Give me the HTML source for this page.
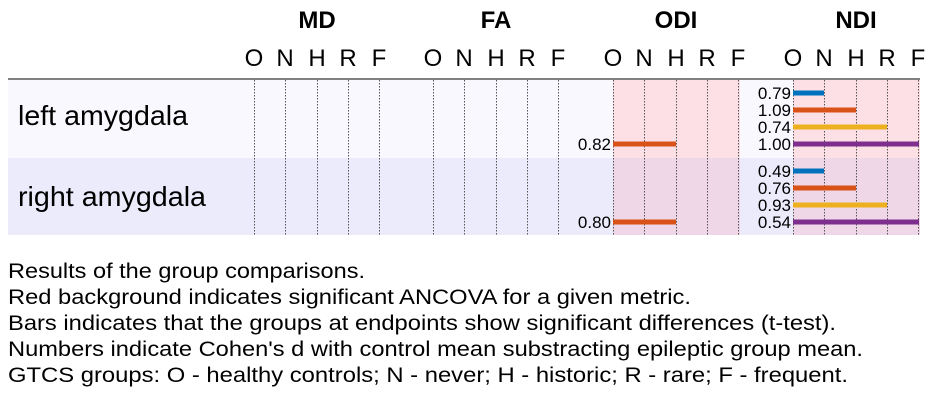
<!DOCTYPE html>
<html><head><meta charset="utf-8"><style>
html,body{margin:0;padding:0;background:#fff;}
svg{display:block;font-family:"Liberation Sans",Arial,sans-serif;}
</style></head><body>
<svg width="928" height="401" viewBox="0 0 928 401" xmlns="http://www.w3.org/2000/svg">
<rect x="8" y="80" width="912" height="78" fill="#f8f8fe"/>
<rect x="8" y="158" width="912" height="77" fill="#ebebfb"/>
<rect x="613" y="80" width="127" height="78" fill="#fde0e6"/>
<rect x="613" y="158" width="127" height="77" fill="#efd7e7"/>
<rect x="793" y="80" width="127" height="78" fill="#fde0e6"/>
<rect x="793" y="158" width="127" height="77" fill="#efd7e7"/>
<line x1="8" y1="79" x2="920" y2="79" stroke="#808080" stroke-width="2"/>
<g stroke="#555" stroke-width="1" stroke-dasharray="1.5,1.5">
<line x1="254.5" y1="80" x2="254.5" y2="235"/><line x1="285.5" y1="80" x2="285.5" y2="235"/><line x1="317.5" y1="80" x2="317.5" y2="235"/><line x1="348.5" y1="80" x2="348.5" y2="235"/><line x1="379.5" y1="80" x2="379.5" y2="235"/>
<line x1="433.5" y1="80" x2="433.5" y2="235"/><line x1="464.5" y1="80" x2="464.5" y2="235"/><line x1="496.5" y1="80" x2="496.5" y2="235"/><line x1="527.5" y1="80" x2="527.5" y2="235"/><line x1="558.5" y1="80" x2="558.5" y2="235"/>
<line x1="613.5" y1="80" x2="613.5" y2="235"/><line x1="644.5" y1="80" x2="644.5" y2="235"/><line x1="676.5" y1="80" x2="676.5" y2="235"/><line x1="707.5" y1="80" x2="707.5" y2="235"/><line x1="738.5" y1="80" x2="738.5" y2="235"/>
<line x1="793.5" y1="80" x2="793.5" y2="235"/><line x1="824.5" y1="80" x2="824.5" y2="235"/><line x1="856.5" y1="80" x2="856.5" y2="235"/><line x1="887.5" y1="80" x2="887.5" y2="235"/><line x1="918.5" y1="80" x2="918.5" y2="235"/>
</g>
<g font-size="24" font-weight="bold" text-anchor="middle" fill="#000">
<text x="317" y="28">MD</text><text x="496" y="28">FA</text><text x="676" y="28">ODI</text><text x="856" y="28">NDI</text>
</g>
<g font-size="24" text-anchor="middle" fill="#000">
<text x="254" y="66">O</text><text x="285" y="66">N</text><text x="317" y="66">H</text><text x="348" y="66">R</text><text x="379" y="66">F</text>
<text x="433" y="66">O</text><text x="464" y="66">N</text><text x="496" y="66">H</text><text x="527" y="66">R</text><text x="558" y="66">F</text>
<text x="613" y="66">O</text><text x="644" y="66">N</text><text x="676" y="66">H</text><text x="707" y="66">R</text><text x="738" y="66">F</text>
<text x="793" y="66">O</text><text x="824" y="66">N</text><text x="856" y="66">H</text><text x="887" y="66">R</text><text x="918" y="66">F</text>
</g>
<g font-size="28" fill="#000">
<text x="18" y="125" textLength="170" lengthAdjust="spacingAndGlyphs">left amygdala</text><text x="18" y="206" textLength="188" lengthAdjust="spacingAndGlyphs">right amygdala</text>
</g>
<g stroke-width="5">
<line x1="613" y1="144" x2="676" y2="144" stroke="#d95319"/>
<line x1="613" y1="222" x2="676" y2="222" stroke="#d95319"/>
<line x1="793" y1="93" x2="824" y2="93" stroke="#0072bd"/>
<line x1="793" y1="110" x2="856" y2="110" stroke="#d95319"/>
<line x1="793" y1="127" x2="887" y2="127" stroke="#edb120"/>
<line x1="793" y1="144" x2="919" y2="144" stroke="#7e2f8e"/>
<line x1="793" y1="171" x2="824" y2="171" stroke="#0072bd"/>
<line x1="793" y1="188" x2="856" y2="188" stroke="#d95319"/>
<line x1="793" y1="205" x2="887" y2="205" stroke="#edb120"/>
<line x1="793" y1="222" x2="919" y2="222" stroke="#7e2f8e"/>
</g>
<g font-size="17" text-anchor="end" fill="#000">
<text x="611" y="150">0.82</text><text x="611" y="228">0.80</text>
<text x="791" y="99">0.79</text><text x="791" y="116">1.09</text><text x="791" y="133">0.74</text><text x="791" y="150">1.00</text>
<text x="791" y="177">0.49</text><text x="791" y="194">0.76</text><text x="791" y="211">0.93</text><text x="791" y="228">0.54</text>
</g>
<g font-size="21" fill="#000" lengthAdjust="spacingAndGlyphs">
<text x="8" y="278" textLength="357" lengthAdjust="spacingAndGlyphs">Results of the group comparisons.</text>
<text x="8" y="304" textLength="683" lengthAdjust="spacingAndGlyphs">Red background indicates significant ANCOVA for a given metric.</text>
<text x="8" y="330" textLength="828" lengthAdjust="spacingAndGlyphs">Bars indicates that the groups at endpoints show significant differences (t-test).</text>
<text x="8" y="356" textLength="855" lengthAdjust="spacingAndGlyphs">Numbers indicate Cohen's d with control mean substracting epileptic group mean.</text>
<text x="8" y="382" textLength="840" lengthAdjust="spacingAndGlyphs">GTCS groups: O - healthy controls; N - never; H - historic; R - rare; F - frequent.</text>
</g>
</svg>
</body></html>
